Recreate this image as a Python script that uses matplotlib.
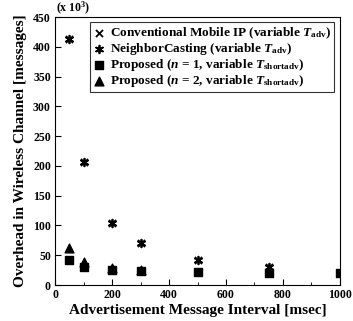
import matplotlib
matplotlib.use('Agg')
import matplotlib.pyplot as plt
from matplotlib.ticker import MultipleLocator

plt.rcParams['font.family'] = 'Liberation Serif'
plt.rcParams['font.weight'] = 'bold'
plt.rcParams['mathtext.fontset'] = 'custom'
plt.rcParams['mathtext.rm'] = 'Liberation Serif:bold'
plt.rcParams['mathtext.it'] = 'Liberation Serif:italic:bold'
plt.rcParams['mathtext.bf'] = 'Liberation Serif:bold'

# data (x 10^3 messages)
interval = [50, 100, 200, 300, 500, 750]
conventional = [413, 207, 104, 70, 42, 30]
neighbor = [413, 207, 104, 70, 42, 30]
prop_n1_x = [50, 100, 200, 300, 500, 750, 1000]
prop_n1 = [42, 31, 26, 24, 22, 21, 20]
prop_n2_x = [50, 100, 200, 300]
prop_n2 = [62, 39, 29, 26]

fig = plt.figure(figsize=(3.53, 3.21), dpi=100)
ax = fig.add_axes([0.156, 0.112, 0.807, 0.835])

ax.scatter(interval, conventional, marker='x', color='black', s=26, linewidths=1.3,
           label=r'Conventional Mobile IP (variable $T_{\mathrm{adv}}$)')
ax.scatter(interval, neighbor, marker=(6, 2, 0), color='black', s=30, linewidths=1.3,
           label=r'NeighborCasting (variable $T_{\mathrm{adv}}$)')
ax.scatter(prop_n1_x, prop_n1, marker='s', color='black', s=36,
           label=r'Proposed ($n$ = 1, variable $T_{\mathrm{shortadv}}$)')
ax.scatter(prop_n2_x, prop_n2, marker='^', color='black', s=40,
           label=r'Proposed ($n$ = 2, variable $T_{\mathrm{shortadv}}$)')

ax.set_xlim(0, 1000)
ax.set_ylim(0, 450)
ax.xaxis.set_major_locator(MultipleLocator(200))
ax.xaxis.set_minor_locator(MultipleLocator(100))
ax.yaxis.set_major_locator(MultipleLocator(50))
ax.tick_params(direction='in', labelsize=8.5, length=4, pad=3)
ax.tick_params(which='minor', direction='in', length=2)
ax.set_xlabel('Advertisement Message Interval [msec]', fontsize=11, fontweight='bold', labelpad=2)
ax.set_ylabel('Overhead in Wireless Channel [messages]', fontsize=11, fontweight='bold', labelpad=4)
ax.text(0.005, 1.0, r'(x 10$^3$)', transform=ax.transAxes, fontsize=8.5, fontweight='bold',
        ha='left', va='bottom')

leg = ax.legend(loc='upper right', bbox_to_anchor=(0.99, 0.99), fontsize=9.5, frameon=True,
                fancybox=False, edgecolor='black', handlelength=0.8, handletextpad=0.4,
                borderpad=0.25, labelspacing=0.0, borderaxespad=0.2)
leg.get_frame().set_linewidth(0.8)

fig.savefig('out.png', dpi=100)
